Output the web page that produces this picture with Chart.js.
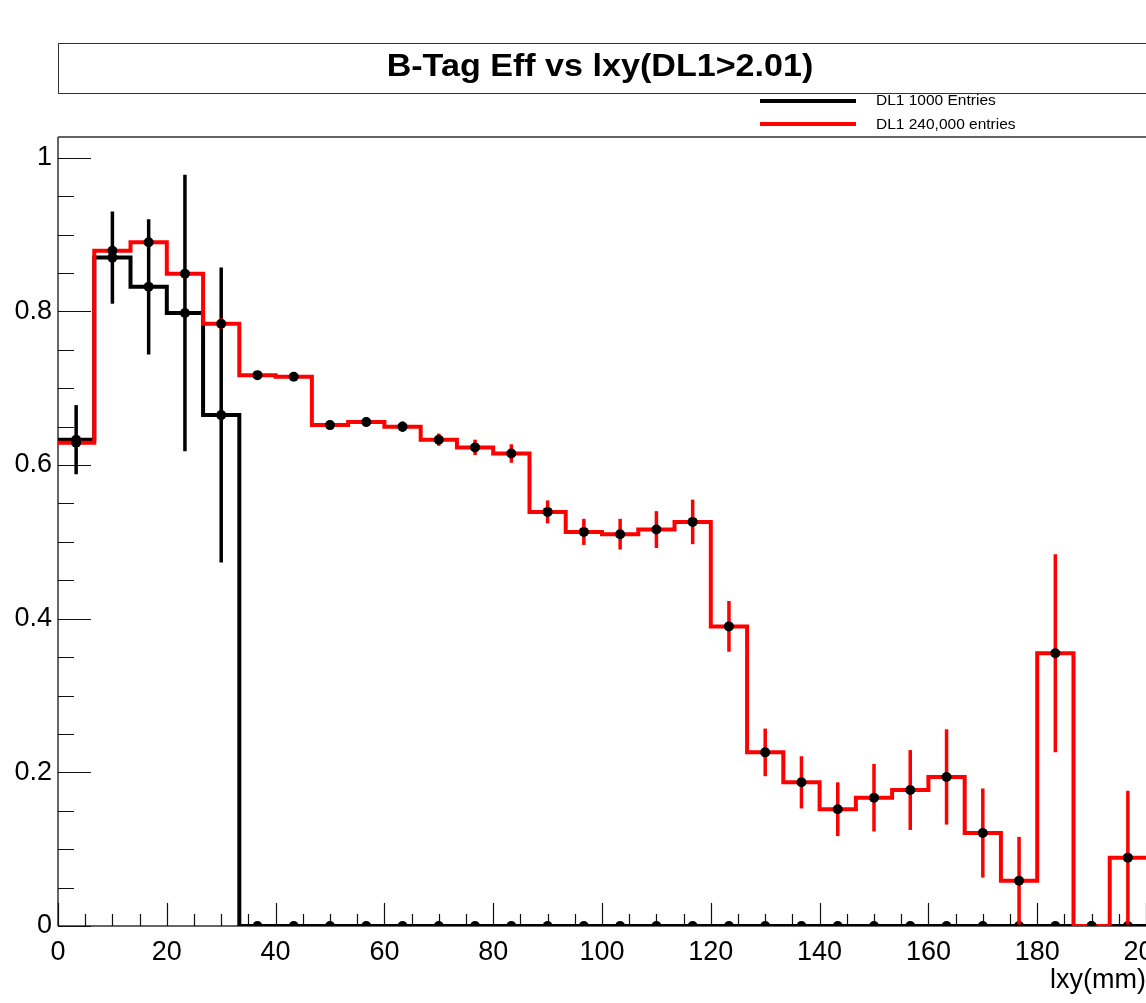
<!DOCTYPE html>
<html>
<head>
<meta charset="utf-8">
<title>B-Tag Eff vs lxy</title>
<script src="https://cdn.jsdelivr.net/npm/chart.js@4.4.1/dist/chart.umd.min.js"></script>
<style>
  html, body { margin: 0; padding: 0; background: #fff; overflow: hidden; }
  #wrap { position: relative; width: 1146px; height: 1003px; font-family: "Liberation Sans", Arial, sans-serif; }
  #effChart { position: absolute; left: 0; top: 0; }
  #titleBox { position: absolute; left: 58px; top: 43px; width: 1100px; height: 49px; border: 1.5px solid #333; }
  #titleText { position: absolute; left: 600px; top: 66px; transform: translate(-50%, -50%) scaleX(1.1);
               font-weight: bold; font-size: 31px; white-space: nowrap; color: #000; }
  .leg-line { position: absolute; left: 760px; width: 96px; height: 4px; }
  .leg-text { position: absolute; left: 876px; font-size: 15.5px; transform: translateY(-50%); white-space: nowrap; color: #000; }
</style>
</head>
<body>
<div id="wrap">
  <canvas id="effChart" width="1146" height="1003"></canvas>
  <div id="titleBox"></div>
  <div id="titleText">B-Tag Eff vs lxy(DL1&gt;2.01)</div>
  <div class="leg-line" style="top:99px;background:#000;"></div>
  <div class="leg-text" style="top:100px;">DL1 1000 Entries</div>
  <div class="leg-line" style="top:122px;background:#f00;"></div>
  <div class="leg-text" style="top:124px;">DL1 240,000 entries</div>
</div>
<script>
// bin edges of lxy (mm), 30 bins
const binEdges = [0, 6.67, 13.33, 20, 26.67, 33.33, 40, 46.67, 53.33, 60,
  66.67, 73.33, 80, 86.67, 93.33, 100, 106.67, 113.33, 120, 126.67,
  133.33, 140, 146.67, 153.33, 160, 166.67, 173.33, 180, 186.67, 193.33, 200];

// DL1 1000 entries
const effSmall = [0.633, 0.870, 0.832, 0.798, 0.665, 0, 0, 0, 0, 0,
  0, 0, 0, 0, 0, 0, 0, 0, 0, 0,
  0, 0, 0, 0, 0, 0, 0, 0, 0, 0];
const errSmall = [0.045, 0.060, 0.088, 0.180, 0.192, 0, 0, 0, 0, 0,
  0, 0, 0, 0, 0, 0, 0, 0, 0, 0,
  0, 0, 0, 0, 0, 0, 0, 0, 0, 0];

// DL1 240,000 entries
const effLarge = [0.629, 0.879, 0.890, 0.849, 0.784, 0.717, 0.715, 0.652, 0.656, 0.650,
  0.633, 0.623, 0.615, 0.539, 0.513, 0.510, 0.516, 0.526, 0.390, 0.226,
  0.187, 0.152, 0.167, 0.177, 0.194, 0.121, 0.059, 0.355, 0, 0.089];
const errLarge = [0.006, 0.006, 0.006, 0.006, 0.007, 0.005, 0.005, 0.006, 0.006, 0.007,
  0.008, 0.010, 0.012, 0.015, 0.017, 0.020, 0.024, 0.029, 0.033, 0.031,
  0.034, 0.035, 0.044, 0.052, 0.062, 0.058, 0.057, 0.129, 0, 0.087];

const xTickLabels = [0, 20, 40, 60, 80, 100, 120, 140, 160, 180, 200];
const yTickLabels = [0, 0.2, 0.4, 0.6, 0.8, 1];

function stepPoints(vals) {
  const pts = vals.map((v, i) => ({ x: binEdges[i], y: v }));
  pts.push({ x: binEdges[binEdges.length - 1], y: vals[vals.length - 1] });
  return pts;
}
function centerPoints(vals) {
  return vals.map((v, i) => ({ x: (binEdges[i] + binEdges[i + 1]) / 2, y: v }));
}

// error bars are drawn just before each marker dataset
const errorBars = {
  id: "errorBars",
  beforeDatasetDraw(chart, args) {
    const ds = chart.data.datasets[args.index];
    if (!ds.errors) return;
    const { ctx, scales: { x, y }, chartArea } = chart;
    ctx.save();
    ctx.strokeStyle = ds.errColor;
    ctx.lineWidth = 3.5;
    ds.data.forEach((p, i) => {
      const e = ds.errors[i];
      if (!e) return;
      const px = x.getPixelForValue(p.x);
      const top = Math.max(y.getPixelForValue(p.y + e), chartArea.top);
      const bot = Math.min(y.getPixelForValue(Math.max(p.y - e, 0)), chartArea.bottom);
      ctx.beginPath();
      ctx.moveTo(px, top);
      ctx.lineTo(px, bot);
      ctx.stroke();
    });
    ctx.restore();
  }
};

// ROOT style frame with inward ticks
const rootFrame = {
  id: "rootFrame",
  beforeDatasetsDraw(chart) {
    const { ctx, scales: { x, y }, chartArea: a } = chart;
    ctx.save();
    ctx.strokeStyle = "#333";
    ctx.lineWidth = 1.5;
    ctx.beginPath();
    ctx.moveTo(a.left, a.top); ctx.lineTo(a.right, a.top);
    ctx.moveTo(a.left, a.top); ctx.lineTo(a.left, a.bottom);
    ctx.moveTo(a.left, a.bottom); ctx.lineTo(a.right, a.bottom);
    ctx.stroke();
    ctx.strokeStyle = "#111";
    ctx.lineWidth = 1.2;
    ctx.beginPath();
    for (let v = 0; v <= 1.0001; v += 0.05) {
      const py = Math.round(y.getPixelForValue(v)) + 0.5;
      const major = Math.abs(v / 0.2 - Math.round(v / 0.2)) < 1e-6;
      ctx.moveTo(a.left, py);
      ctx.lineTo(a.left + (major ? 33 : 16), py);
    }
    for (let v = 0; v <= 200; v += 5) {
      const px = Math.round(x.getPixelForValue(v)) + 0.5;
      const major = v % 20 === 0;
      ctx.moveTo(px, a.bottom);
      ctx.lineTo(px, a.bottom - (major ? 23 : 12));
    }
    ctx.stroke();
    ctx.restore();
  }
};

const ctx = document.getElementById("effChart").getContext("2d");

new Chart(ctx, {
  type: "line",
  data: {
    datasets: [
      {
        label: "DL1 1000 Entries",
        data: stepPoints(effSmall),
        stepped: true,
        borderColor: "#000",
        borderWidth: 4,
        pointRadius: 0,
        fill: false,
        order: 4
      },
      {
        label: "DL1 1000 Entries points",
        data: centerPoints(effSmall),
        errors: errSmall,
        errColor: "#000",
        showLine: false,
        pointRadius: 5,
        pointBackgroundColor: "#000",
        pointBorderWidth: 0,
        order: 3
      },
      {
        label: "DL1 240,000 entries",
        data: stepPoints(effLarge),
        stepped: true,
        borderColor: "#ff0000",
        borderWidth: 4,
        pointRadius: 0,
        fill: false,
        order: 2
      },
      {
        label: "DL1 240,000 entries points",
        data: centerPoints(effLarge),
        errors: errLarge,
        errColor: "#ff0000",
        showLine: false,
        pointRadius: 5,
        pointBackgroundColor: "#000",
        pointBorderWidth: 0,
        order: 1
      }
    ]
  },
  options: {
    responsive: false,
    animation: false,
    devicePixelRatio: 1,
    layout: { padding: { top: 137, left: 0, right: 0, bottom: 0 }, autoPadding: false },
    scales: {
      x: {
        type: "linear",
        min: 0,
        max: 200,
        afterFit(scale) { scale.height = 77; scale.paddingLeft = 0; scale.paddingRight = 0; },
        afterBuildTicks(scale) { scale.ticks = xTickLabels.map(v => ({ value: v })); },
        grid: { display: false, drawTicks: false },
        border: { display: false },
        ticks: {
          color: "#000",
          font: { family: "'Liberation Sans', Arial", size: 27 },
          padding: 10,
          maxRotation: 0,
          autoSkip: false,
          callback: v => String(v)
        },
        title: {
          display: true,
          text: "lxy(mm)",
          align: "end",
          color: "#000",
          font: { family: "'Liberation Sans', Arial", size: 27 },
          padding: { top: 0, bottom: 6 }
        }
      },
      y: {
        min: 0,
        max: 1.027,
        afterFit(scale) { scale.width = 58; scale.paddingTop = 0; scale.paddingBottom = 0; },
        afterBuildTicks(scale) { scale.ticks = yTickLabels.map(v => ({ value: v })); },
        grid: { display: false, drawTicks: false },
        border: { display: false },
        ticks: {
          color: "#000",
          font: { family: "'Liberation Sans', Arial", size: 27 },
          padding: 6,
          callback: v => String(Number(v.toFixed(1)))
        }
      }
    },
    plugins: {
      legend: { display: false },
      title: { display: false },
      tooltip: { enabled: false }
    }
  },
  plugins: [rootFrame, errorBars]
});
</script>
</body>
</html>
